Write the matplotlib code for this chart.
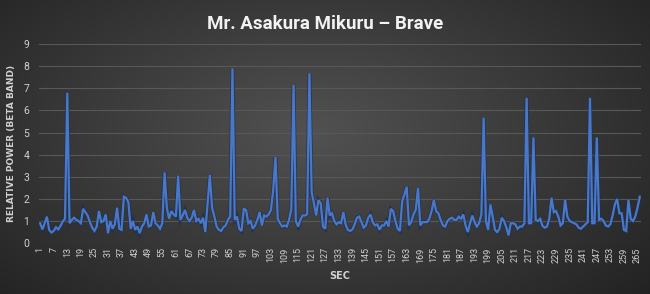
import numpy as np
import matplotlib
matplotlib.use("Agg")
import matplotlib.pyplot as plt
import matplotlib.patheffects as pe

TITLE = "Mr. Asakura Mikuru \u2013 Brave"
Y_LABEL = "RELATIVE POWER (BETA BAND)"
X_LABEL = "SEC"

# relative beta-band power, one value per second (1..266)
power_1_56 = [0.9, 0.62, 0.9, 1.2, 0.6, 0.48, 0.55, 0.72, 0.62, 0.78,
              0.98, 1.1, 6.8, 0.9, 1.05, 1.15, 1.05, 1.0, 0.9, 1.55,
              1.4, 1.25, 0.95, 0.7, 0.55, 0.75, 1.45, 0.95, 1.0, 1.3,
              0.45, 1.0, 0.65, 0.85, 1.6, 0.65, 0.6, 2.1, 2.05, 1.85,
              0.65, 1.0, 0.6, 0.75, 0.45, 0.75, 0.9, 1.3, 0.75, 0.8,
              1.4, 0.9, 0.8, 0.65, 0.9, 3.2]
power_57_128 = [1.6, 1.1, 1.45, 1.3, 1.2, 3.05, 1.05, 1.25, 1.5, 1.15,
                1.0, 1.15, 1.5, 1.0, 1.1, 0.9, 1.15, 0.5, 1.8, 3.08,
                1.6, 1.2, 0.75, 0.6, 0.55, 0.72, 0.8, 1.05, 1.2, 7.9,
                1.05, 1.2, 0.65, 0.55, 1.55, 1.5, 0.9, 1.0, 0.65, 0.8,
                1.05, 1.4, 0.8, 1.25, 1.2, 1.3, 1.5, 2.4, 3.9, 1.1,
                0.9, 0.75, 0.8, 0.75, 1.05, 1.55, 7.15, 1.0, 0.75, 1.05,
                1.25, 1.25, 1.3, 7.68, 2.3, 1.8, 1.25, 1.95, 1.8, 0.75,
                0.65, 2.05]
power_129_199 = [1.25, 1.35, 1.0, 0.85, 0.95, 0.9, 1.4, 0.85, 0.6, 0.55,
                 0.62, 0.85, 1.15, 1.2, 0.95, 0.7, 0.8, 1.15, 1.3, 0.95,
                 0.8, 0.85, 0.6, 0.8, 0.8, 1.0, 0.75, 1.55, 1.45, 1.0,
                 0.65, 0.55, 1.9, 2.2, 2.55, 0.8, 0.95, 1.3, 1.5, 2.5,
                 0.8, 0.95, 0.95, 0.95, 1.1, 1.45, 1.95, 1.45, 1.35, 1.05,
                 0.8, 0.75, 1.0, 1.1, 1.15, 1.05, 1.05, 1.2, 1.1, 1.3,
                 0.8, 0.5, 0.9, 1.25, 0.95, 0.75, 0.9, 1.3, 5.67, 1.0,
                 0.6]
power_200_266 = [1.75, 1.2, 0.6, 0.5, 0.65, 1.15, 1.0, 0.72, 0.35, 0.9,
                 0.9, 0.85, 0.65, 0.75, 0.75, 0.9, 6.57, 0.9, 0.9, 4.78,
                 1.05, 1.0, 1.1, 0.78, 0.7, 0.75, 1.1, 2.05, 1.4, 1.45,
                 1.2, 0.8, 0.9, 1.95, 1.2, 1.0, 0.95, 0.9, 0.85, 0.7,
                 0.65, 0.75, 0.85, 0.95, 6.57, 0.9, 0.9, 4.78, 1.05, 1.1,
                 1.0, 0.8, 0.75, 0.85, 1.25, 1.75, 2.0, 1.35, 1.35, 0.6,
                 0.55, 1.95, 1.1, 1.0, 1.2, 1.6, 2.1]
power = power_1_56 + power_57_128 + power_129_199 + power_200_266
seconds = list(range(1, len(power) + 1))
tick_secs = list(range(1, 266, 6))
y_ticks = list(range(0, 10))

LINE_COL = "#4a78c8"
TEXT_COL = "#d0d0d0"
GRID_COL = "#585858"

fig = plt.figure(figsize=(6.5, 2.94), dpi=100)

# radial dark-gray background
bg = fig.add_axes([0, 0, 1, 1])
yy, xx = np.mgrid[0:1:294j, 0:1:650j]
r = np.sqrt(((xx - 0.48) / 0.75) ** 2 + ((yy - 0.45) / 0.9) ** 2)
shade = 0.32 - 0.2 * np.clip(r, 0, 1)
bg.imshow(np.dstack([shade] * 3), extent=[0, 1, 0, 1], aspect="auto", origin="upper")
bg.axis("off")

ax = fig.add_axes([0.06, 0.173, 0.926, 0.677])
ax.patch.set_alpha(0)
ax.plot(seconds, power, color=LINE_COL, lw=1.6, solid_joinstyle="miter",
        path_effects=[pe.Stroke(linewidth=2.8, foreground="#1c2f55", alpha=0.7), pe.Normal()])

ax.set_xlim(0.5, len(power) + 0.5)
ax.set_ylim(0, 9)
ax.set_yticks(y_ticks)
ax.set_xticks(tick_secs)
ax.set_xticklabels([str(s) for s in tick_secs], rotation=90, fontsize=6.5, color=TEXT_COL, family="Roboto")
ax.set_yticklabels([str(v) for v in y_ticks], fontsize=7.5, color=TEXT_COL, family="Roboto")
ax.tick_params(axis="x", length=0, pad=3)
ax.tick_params(axis="y", length=0, pad=7)
ax.grid(axis="y", color=GRID_COL, lw=0.8)
ax.set_axisbelow(True)
for s in ax.spines.values():
    s.set_visible(False)

ax.set_ylabel(Y_LABEL, fontsize=6.5, fontweight="bold", color=TEXT_COL, labelpad=5)
ax.set_xlabel(X_LABEL, fontsize=7, fontweight="bold", color=TEXT_COL, labelpad=6)
fig.text(0.5, 0.918, TITLE, ha="center", va="center", fontsize=13.5, fontweight="bold",
         color="#f2f2f2", family="Roboto")

fig.savefig("out.png", dpi=100)
